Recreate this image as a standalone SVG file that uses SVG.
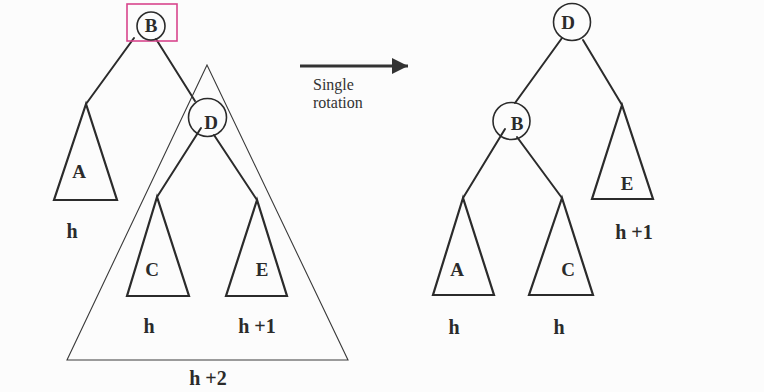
<svg xmlns="http://www.w3.org/2000/svg" width="764" height="392" viewBox="0 0 764 392">
<style>
.bg{fill:#fcfcfc}
.ln{stroke:#2b2b2b;stroke-width:2;fill:none;stroke-linecap:round}
.tri{stroke:#2b2b2b;stroke-width:2.2;fill:none;stroke-linejoin:miter}
.big{stroke:#3a3a3a;stroke-width:1.1;fill:none}
.nd{stroke:#2b2b2b;stroke-width:1.6;fill:none}
.hl{stroke:#d8458c;stroke-width:1.6;fill:none}
.lb{font-family:"Liberation Serif","Times New Roman",serif;font-weight:bold;font-size:19px;fill:#2b2b2b;text-anchor:middle}
.ht{font-family:"Liberation Serif","Times New Roman",serif;font-weight:bold;font-size:20px;fill:#2b2b2b;text-anchor:middle}
.cap{font-family:"Liberation Serif","Times New Roman",serif;font-size:16px;fill:#333}
</style>
<defs>
<marker id="ah" viewBox="0 0 10 10" refX="10" refY="5" markerWidth="5.5" markerHeight="6" markerUnits="strokeWidth" orient="auto">
<path d="M0,0 L10,5 L0,10 z" fill="#333"/>
</marker>
</defs>
<rect class="bg" x="0" y="0" width="764" height="392"/>

<g id="connectors">
<line class="ln" x1="134" y1="38" x2="86" y2="104"/>
<line class="ln" x1="156" y1="39" x2="195" y2="101"/>
<line class="ln" x1="201" y1="128" x2="157" y2="197"/>
<line class="ln" x1="214" y1="135" x2="257" y2="200"/>
<line class="ln" x1="562" y1="38" x2="515" y2="103"/>
<line class="ln" x1="583" y1="40" x2="622" y2="105"/>
<line class="ln" x1="505" y1="129" x2="463" y2="198"/>
<line class="ln" x1="517" y1="137" x2="562" y2="198"/>
<line x1="300" y1="66" x2="408" y2="66" stroke="#333" stroke-width="3" marker-end="url(#ah)"/>
</g>

<g id="left-B">
<rect class="hl" x="127" y="4" width="50" height="37"/>
<circle class="nd" cx="151" cy="26" r="14"/>
<text class="lb" x="151" y="32">B</text>
</g>
<g id="left-D">
<circle class="nd" cx="207.5" cy="117.5" r="19"/>
<text class="lb" x="211" y="129">D</text>
</g>
<g id="left-big">
<polygon class="big" points="207,65 67,360 348,360"/>
<text class="ht" x="208" y="385">h +2</text>
</g>
<g id="left-A">
<polygon class="tri" points="86,104 54,200 117,200"/>
<text class="lb" x="79" y="178">A</text>
<text class="ht" x="72" y="238">h</text>
</g>
<g id="left-C">
<polygon class="tri" points="157,197 127,296 189,296"/>
<text class="lb" x="152" y="276">C</text>
<text class="ht" x="149" y="333">h</text>
</g>
<g id="left-E">
<polygon class="tri" points="257,200 226,296 287,296"/>
<text class="lb" x="262" y="276">E</text>
<text class="ht" x="257" y="333">h +1</text>
</g>

<g id="rotation-label">
<text class="cap" x="313" y="90">Single</text>
<text class="cap" x="313" y="108">rotation</text>
</g>

<g id="right-D">
<circle class="nd" cx="572" cy="22" r="18.5"/>
<text class="lb" x="568" y="29">D</text>
</g>
<g id="right-B">
<circle class="nd" cx="511.5" cy="121" r="18.5"/>
<text class="lb" x="517" y="130">B</text>
</g>
<g id="right-E">
<polygon class="tri" points="622,105 592,199 653,199"/>
<text class="lb" x="627" y="190">E</text>
<text class="ht" x="634" y="239">h +1</text>
</g>
<g id="right-A">
<polygon class="tri" points="463,198 433,295 494,295"/>
<text class="lb" x="457" y="276">A</text>
<text class="ht" x="454" y="334">h</text>
</g>
<g id="right-C">
<polygon class="tri" points="562,198 529,295 593,295"/>
<text class="lb" x="568" y="276">C</text>
<text class="ht" x="559" y="334">h</text>
</g>
</svg>
